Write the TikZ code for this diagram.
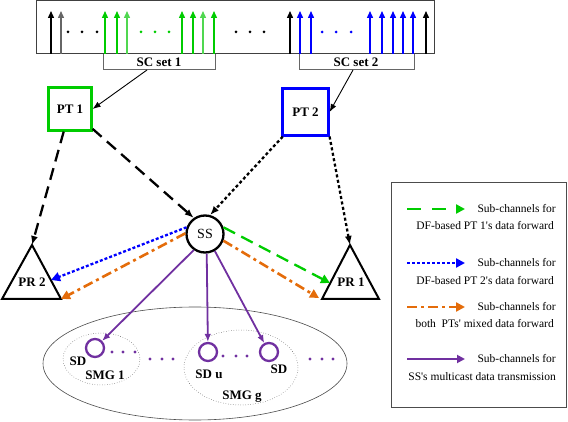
\documentclass[tikz,border=0pt]{standalone}
\usepackage{fontspec}
\setmainfont{Liberation Serif}
\usetikzlibrary{arrows.meta}

\definecolor{scgreen}{RGB}{0,204,0}
\definecolor{scgreenlt}{RGB}{80,215,80}
\definecolor{scblue}{RGB}{0,0,255}
\definecolor{mixorange}{RGB}{228,108,10}
\definecolor{mcpurple}{RGB}{112,48,160}

\begin{document}
\begin{tikzpicture}[x=1pt,y=-1pt,
  lbl/.style={font=\fontsize{13}{15}\selectfont\bfseries,inner sep=0pt},
  legtxt/.style={font=\fontsize{11.5}{13}\selectfont,inner sep=0pt,anchor=east},
  sub/.style={line width=1.4pt,-{Triangle[length=7pt,width=6pt]}},
  pt1link/.style={line width=2.3pt,dash pattern=on 12pt off 7pt,-{Latex[length=9pt,width=7pt]}},
  pt2link/.style={line width=2.3pt,dash pattern=on 3pt off 2.5pt,-{Latex[length=9pt,width=7pt]}},
  df1/.style={scgreen,line width=2.3pt,dash pattern=on 13pt off 7pt,-{Triangle[length=9pt,width=9pt]}},
  df2/.style={scblue,line width=2.3pt,dash pattern=on 3pt off 2pt,-{Triangle[length=9pt,width=9pt]}},
  mixed/.style={mixorange,line width=2.6pt,dash pattern=on 10pt off 4pt on 3pt off 4pt,-{Triangle[length=9pt,width=9pt]}},
  mcast/.style={mcpurple,line width=1.8pt,-{Latex[length=8pt,width=6.5pt]}},
  sdnode/.style={circle,draw=mcpurple,line width=2.3pt,minimum size=18pt,inner sep=0pt}
]
\useasboundingbox (0,0) rectangle (568,422);

% sub-carrier spectrum
\draw[black!75,line width=1pt] (36,0.5) rectangle (434,54);
\foreach \x/\c in {51/black,61/black!60,105/scgreen,117/scgreen,127/scgreenlt,182/scgreen,193/scgreen,203/scgreenlt,214/scgreen,
                   290/black,300/scblue,311/scblue,370/scblue,382/scblue,393/scblue,403/scblue,413/scblue,426/black}
  \draw[sub,\c] (\x,54) -- (\x,11);
\foreach \x in {68,82,97,236,250,264} \fill (\x,32) circle (1.5);
\foreach \x in {141,155,169} \fill[scgreen] (\x,32) circle (1.5);
\foreach \x in {322,336,351} \fill[scblue] (\x,32) circle (1.5);

% SC sets
\draw[black!60,line width=1pt] (103,54) |- (215,70) -- (215,54);
\draw[black!60,line width=1pt] (299,54) |- (414,70) -- (414,54);
\node[lbl] (sc1) at (159,62) {SC set 1};
\node[lbl] (sc2) at (356,62) {SC set 2};
\coordinate (sc1b) at (147,70);
\coordinate (sc2b) at (353,70);

% transmitters, SS, receivers
\node[lbl,draw=scgreen,line width=2.2pt,minimum size=43pt] (pt1) at (70,109) {PT 1};
\node[lbl,draw=scblue,line width=2.2pt,minimum width=46pt,minimum height=47pt] (pt2) at (305.5,112) {PT 2};
\node[circle,draw,line width=2.3pt,minimum size=37pt,inner sep=0pt,font=\fontsize{14}{16}\selectfont] (ss) at (205,234) {SS};

\draw[line width=2pt] (32,245) coordinate (pr2top) -- (61,299) coordinate (pr2r) -- (2,299) -- cycle;
\node[lbl] (pr2) at (32,282) {PR 2};
\coordinate (pr2m) at (51,280);
\draw[line width=2pt] (350,245) coordinate (pr1top) -- (379,299) -- (322,299) coordinate (pr1l) -- cycle;
\node[lbl] (pr1) at (351,282) {PR 1};
\coordinate (pr1m) at (330,283);
\coordinate (pr1o) at (319,298);

\draw[-{Latex[length=8pt,width=6pt]},line width=0.9pt] (sc1b) -- (pt1.east);
\draw[-{Latex[length=8pt,width=6pt]},line width=0.9pt] (sc2b) -- (pt2.east);

\draw[pt1link] (pt1) -- (pr2top);
\draw[pt1link] (pt1) -- (ss.125);
\draw[pt2link] (pt2) -- (ss.75);
\draw[pt2link] (pt2.south east) -- (pr1top);

\draw[df2] (ss.160) -- (pr2m);
\draw[mixed] (ss.178) -- (pr2r);
\draw[df1] (ss.20) -- (pr1m);
\draw[mixed] (ss.-20) -- (pr1o);

% multicast groups
\draw[black!70,line width=0.6pt] (195,363.5) ellipse (152 and 56.5);
\draw[black!70,line width=0.5pt,dotted] (101.5,359) ellipse (38.5 and 26);
\draw[black!70,line width=0.5pt,dotted] (241,367.5) ellipse (57 and 37.5);

\node[sdnode] (sd1) at (95,348) {};
\node[sdnode] (sdu) at (208,352) {};
\node[sdnode] (sdg) at (269,352) {};
\node[lbl] (sd1l) at (78,361) {SD};
\node[lbl] (smg1) at (105,375) {SMG 1};
\node[lbl] (sdul) at (209,374) {SD u};
\node[lbl] (sdgl) at (279,369) {SD};
\node[lbl] (smgg) at (242,397) {SMG g};

\foreach \x in {112,123,135} \fill[mcpurple] (\x,352) circle (1.6);
\foreach \x in {150,162,173} \fill[mcpurple] (\x,359) circle (1.6);
\foreach \x in {223,236,247} \fill[mcpurple] (\x,356) circle (1.6);
\foreach \x in {310,322,333} \fill[mcpurple] (\x,359) circle (1.6);

\draw[mcast] (ss.235) -- (sd1);
\draw[mcast] (ss.-85) -- (sdu);
\draw[mcast] (ss.-60) -- (sdg);

% legend
\draw[black!70,line width=1pt] (391,183) rectangle (566,407);
\coordinate (l1a) at (407,209); \coordinate (l1b) at (465,209);
\coordinate (l2a) at (407,263); \coordinate (l2b) at (465,263);
\coordinate (l3a) at (407,307); \coordinate (l3b) at (465,307);
\coordinate (l4a) at (407,359); \coordinate (l4b) at (465,359);
\draw[df1,dash pattern=on 14pt off 11pt] (l1a) -- (l1b);
\draw[df2] (l2a) -- (l2b);
\draw[mixed] (l3a) -- (l3b);
\draw[mcast,-{Triangle[length=8pt,width=8pt]}] (l4a) -- (l4b);
\node[legtxt] (l1t) at (556,209) {Sub-channels for};
\node[legtxt] (l1u) at (554,226) {DF-based PT 1\textquotesingle s data forward};
\node[legtxt] (l2t) at (556,263) {Sub-channels for};
\node[legtxt] (l2u) at (554,281) {DF-based PT 2\textquotesingle s data forward};
\node[legtxt] (l3t) at (556,307) {Sub-channels for};
\node[legtxt] (l3u) at (554,324) {both~~PTs\textquotesingle\ mixed data forward};
\node[legtxt] (l4t) at (556,359) {Sub-channels for};
\node[legtxt] (l4u) at (556,377) {SS\textquotesingle s multicast data transmission};
\end{tikzpicture}
\end{document}
